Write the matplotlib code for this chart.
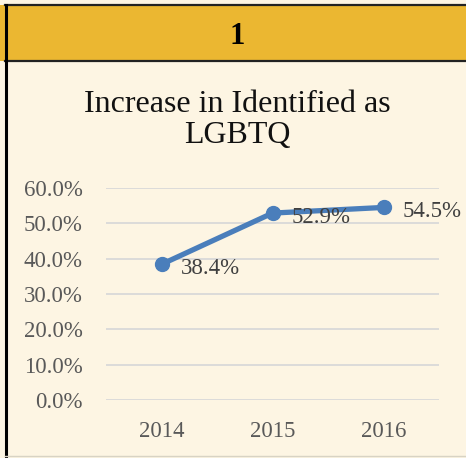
import matplotlib.pyplot as plt
from matplotlib.patches import Rectangle
from matplotlib.lines import Line2D
from matplotlib.ticker import PercentFormatter

# share of respondents identifying as LGBTQ, by survey year
years = ["2014", "2015", "2016"]
lgbtq_pct = [38.4, 52.9, 54.5]
y_ticks = [0, 10, 20, 30, 40, 50, 60]

plt.rcParams["font.family"] = ["Liberation Serif", "DejaVu Serif"]

W, H = 466, 458
fig = plt.figure(figsize=(W / 100, H / 100), dpi=100)
fig.patch.set_facecolor("#fdf5e3")

# gold header band with the panel number
fig.patches.append(Rectangle((0, 1 - 61 / H), 1, 56 / H, transform=fig.transFigure,
                             facecolor="#ebb731", edgecolor="none", zorder=0))
fig.lines.append(Line2D([5 / W, 1], [1 - 5 / H, 1 - 5 / H], transform=fig.transFigure,
                        color="#222222", lw=1.6))
fig.lines.append(Line2D([5 / W, 1], [1 - 61 / H, 1 - 61 / H], transform=fig.transFigure,
                        color="#222222", lw=1.6))
fig.lines.append(Line2D([6 / W, 6 / W], [1 - 5 / H, 1 - 456 / H], transform=fig.transFigure,
                        color="#000000", lw=2.2))
fig.lines.append(Line2D([5 / W, 1], [1 - 456 / H, 1 - 456 / H], transform=fig.transFigure,
                        color="#d8d3c4", lw=1.0))
fig.text(237 / W, 1 - 37 / H, "1", ha="center", va="center",
         fontsize=22, fontweight="bold", color="black")

fig.text(237 / W, 1 - 120 / H, "Increase in Identified as\nLGBTQ", ha="center", va="center",
         fontsize=23, color="#111111", linespacing=1.08)

ax = fig.add_axes([106 / W, 1 - 400 / H, 333 / W, 212 / H])
ax.set_facecolor("none")

x = range(len(years))
ax.plot(x, lgbtq_pct, color="#4a7ebb", lw=3.8, marker="o", markersize=10,
        solid_capstyle="round", zorder=3, clip_on=False)
for xi, v in zip(x, lgbtq_pct):
    ax.annotate(f"{v:.1f}%", (xi, v), xytext=(14, -3), textcoords="offset points",
                ha="left", va="center", fontsize=16.5, color="#404040", zorder=4)

ax.set_xlim(-0.5, 2.5)
ax.set_ylim(0, 60)
ax.set_xticks(list(x))
ax.set_xticklabels(years)
ax.set_yticks(y_ticks)
ax.yaxis.set_major_formatter(PercentFormatter(decimals=1))
ax.grid(axis="y", color="#d9d9d9", lw=1.3)
ax.set_axisbelow(True)
for s in ax.spines.values():
    s.set_visible(False)
ax.tick_params(axis="both", length=0, labelsize=16.5, labelcolor="#595959")
ax.tick_params(axis="y", pad=17)
ax.tick_params(axis="x", pad=15)

fig.savefig("out.png", dpi=100, facecolor=fig.get_facecolor())
